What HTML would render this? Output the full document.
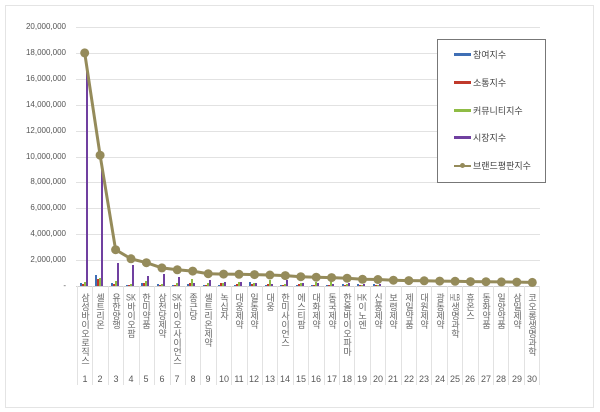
<!DOCTYPE html>
<html><head><meta charset="utf-8"><style>
body{margin:0;background:#fff;width:600px;height:412px;overflow:hidden;position:relative;font-family:"Liberation Sans","Noto Sans CJK KR",sans-serif}
.frame{position:absolute;left:5px;top:5px;width:587px;height:401px;border:1px solid #e4e4e4}
.yl{position:absolute;right:534px;font-size:8px;color:#555;text-align:right}
.lb{position:absolute;top:293px;width:14px;writing-mode:vertical-rl;text-orientation:upright;font-size:9px;color:#666;line-height:14px;letter-spacing:0px}
.lb span{text-combine-upright:all}
.nm{position:absolute;top:374px;width:16px;text-align:center;font-size:9px;color:#595959}
.lg{position:absolute;left:437px;top:39px;width:107px;height:142px;border:1px solid #777;background:#fff}
.li{position:absolute;left:35px;font-size:9px;color:#444}
.sw{position:absolute;left:16px;width:17px;height:3px}
</style></head><body>
<div class="frame"></div>
<svg width="600" height="412" style="position:absolute;left:0;top:0">
<g stroke="#e2e2e2" stroke-width="1">
<line x1="76" x2="540" y1="27.5" y2="27.5"/><line x1="76" x2="540" y1="53.5" y2="53.5"/><line x1="76" x2="540" y1="79.5" y2="79.5"/><line x1="76" x2="540" y1="105.5" y2="105.5"/><line x1="76" x2="540" y1="131.5" y2="131.5"/><line x1="76" x2="540" y1="157.5" y2="157.5"/><line x1="76" x2="540" y1="182.5" y2="182.5"/><line x1="76" x2="540" y1="208.5" y2="208.5"/><line x1="76" x2="540" y1="234.5" y2="234.5"/><line x1="76" x2="540" y1="260.5" y2="260.5"/>
</g>
<line x1="76" x2="540" y1="286.5" y2="286.5" stroke="#d0d0d0"/>
<g stroke="#e2e2e2">
<line x1="77.5" x2="77.5" y1="286" y2="385"/><line x1="92.5" x2="92.5" y1="286" y2="385"/><line x1="108.5" x2="108.5" y1="286" y2="385"/><line x1="123.5" x2="123.5" y1="286" y2="385"/><line x1="139.5" x2="139.5" y1="286" y2="385"/><line x1="154.5" x2="154.5" y1="286" y2="385"/><line x1="170.5" x2="170.5" y1="286" y2="385"/><line x1="185.5" x2="185.5" y1="286" y2="385"/><line x1="200.5" x2="200.5" y1="286" y2="385"/><line x1="216.5" x2="216.5" y1="286" y2="385"/><line x1="231.5" x2="231.5" y1="286" y2="385"/><line x1="247.5" x2="247.5" y1="286" y2="385"/><line x1="262.5" x2="262.5" y1="286" y2="385"/><line x1="277.5" x2="277.5" y1="286" y2="385"/><line x1="293.5" x2="293.5" y1="286" y2="385"/><line x1="308.5" x2="308.5" y1="286" y2="385"/><line x1="324.5" x2="324.5" y1="286" y2="385"/><line x1="339.5" x2="339.5" y1="286" y2="385"/><line x1="354.5" x2="354.5" y1="286" y2="385"/><line x1="370.5" x2="370.5" y1="286" y2="385"/><line x1="385.5" x2="385.5" y1="286" y2="385"/><line x1="401.5" x2="401.5" y1="286" y2="385"/><line x1="416.5" x2="416.5" y1="286" y2="385"/><line x1="431.5" x2="431.5" y1="286" y2="385"/><line x1="447.5" x2="447.5" y1="286" y2="385"/><line x1="462.5" x2="462.5" y1="286" y2="385"/><line x1="478.5" x2="478.5" y1="286" y2="385"/><line x1="493.5" x2="493.5" y1="286" y2="385"/><line x1="508.5" x2="508.5" y1="286" y2="385"/><line x1="524.5" x2="524.5" y1="286" y2="385"/><line x1="539.5" x2="539.5" y1="286" y2="385"/>
</g>
<g>
<rect x="80" y="283" width="2" height="3" fill="#3f6fb5"/><rect x="82" y="284" width="2" height="2" fill="#c0392b"/><rect x="84" y="282" width="2" height="4" fill="#8fbc45"/><rect x="86" y="66" width="2" height="220" fill="#7040a0"/>
<rect x="95" y="275" width="2" height="11" fill="#3f6fb5"/><rect x="97" y="279" width="2" height="7" fill="#c0392b"/><rect x="99" y="278" width="2" height="8" fill="#8fbc45"/><rect x="101" y="169" width="2" height="117" fill="#7040a0"/>
<rect x="111" y="283" width="2" height="3" fill="#3f6fb5"/><rect x="113" y="284" width="2" height="2" fill="#c0392b"/><rect x="115" y="281" width="2" height="5" fill="#8fbc45"/><rect x="117" y="263" width="2" height="23" fill="#7040a0"/>
<rect x="126" y="285" width="2" height="1" fill="#3f6fb5"/><rect x="128" y="285" width="2" height="1" fill="#c0392b"/><rect x="130" y="284" width="2" height="2" fill="#8fbc45"/><rect x="132" y="265" width="2" height="21" fill="#7040a0"/>
<rect x="141" y="283" width="2" height="3" fill="#3f6fb5"/><rect x="143" y="283" width="2" height="3" fill="#c0392b"/><rect x="145" y="281" width="2" height="5" fill="#8fbc45"/><rect x="147" y="276" width="2" height="10" fill="#7040a0"/>
<rect x="157" y="284" width="2" height="2" fill="#3f6fb5"/><rect x="159" y="285" width="2" height="1" fill="#c0392b"/><rect x="161" y="284" width="2" height="2" fill="#8fbc45"/><rect x="163" y="274" width="2" height="12" fill="#7040a0"/>
<rect x="172" y="285" width="2" height="1" fill="#3f6fb5"/><rect x="174" y="285" width="2" height="1" fill="#c0392b"/><rect x="176" y="283" width="2" height="3" fill="#8fbc45"/><rect x="178" y="277" width="2" height="9" fill="#7040a0"/>
<rect x="187" y="284" width="2" height="2" fill="#3f6fb5"/><rect x="189" y="283" width="2" height="3" fill="#c0392b"/><rect x="191" y="279" width="2" height="7" fill="#8fbc45"/><rect x="193" y="283" width="2" height="3" fill="#7040a0"/>
<rect x="203" y="285" width="2" height="1" fill="#3f6fb5"/><rect x="205" y="285" width="2" height="1" fill="#c0392b"/><rect x="207" y="283" width="2" height="3" fill="#8fbc45"/><rect x="209" y="280" width="2" height="6" fill="#7040a0"/>
<rect x="218" y="285" width="2" height="1" fill="#3f6fb5"/><rect x="220" y="283" width="2" height="3" fill="#c0392b"/><rect x="222" y="283" width="2" height="3" fill="#8fbc45"/><rect x="224" y="282" width="2" height="4" fill="#7040a0"/>
<rect x="234" y="285" width="2" height="1" fill="#3f6fb5"/><rect x="236" y="284" width="2" height="2" fill="#c0392b"/><rect x="238" y="282" width="2" height="4" fill="#8fbc45"/><rect x="240" y="282" width="2" height="4" fill="#7040a0"/>
<rect x="249" y="282" width="2" height="4" fill="#3f6fb5"/><rect x="251" y="284" width="2" height="2" fill="#c0392b"/><rect x="253" y="283" width="2" height="3" fill="#8fbc45"/><rect x="255" y="283" width="2" height="3" fill="#7040a0"/>
<rect x="265" y="285" width="2" height="1" fill="#3f6fb5"/><rect x="267" y="284" width="2" height="2" fill="#c0392b"/><rect x="269" y="280" width="2" height="6" fill="#8fbc45"/><rect x="271" y="284" width="2" height="2" fill="#7040a0"/>
<rect x="280" y="285" width="2" height="1" fill="#3f6fb5"/><rect x="282" y="285" width="2" height="1" fill="#c0392b"/><rect x="284" y="284" width="2" height="2" fill="#8fbc45"/><rect x="286" y="280" width="2" height="6" fill="#7040a0"/>
<rect x="296" y="285" width="2" height="1" fill="#3f6fb5"/><rect x="298" y="284" width="2" height="2" fill="#c0392b"/><rect x="300" y="283" width="2" height="3" fill="#8fbc45"/><rect x="302" y="283" width="2" height="3" fill="#7040a0"/>
<rect x="311" y="285" width="2" height="1" fill="#3f6fb5"/><rect x="313" y="285" width="2" height="1" fill="#c0392b"/><rect x="315" y="282" width="2" height="4" fill="#8fbc45"/><rect x="317" y="283" width="2" height="3" fill="#7040a0"/>
<rect x="326" y="285" width="2" height="1" fill="#3f6fb5"/><rect x="328" y="285" width="2" height="1" fill="#c0392b"/><rect x="330" y="280" width="2" height="6" fill="#8fbc45"/><rect x="332" y="284" width="2" height="2" fill="#7040a0"/>
<rect x="342" y="284" width="2" height="2" fill="#3f6fb5"/><rect x="344" y="285" width="2" height="1" fill="#c0392b"/><rect x="346" y="284" width="2" height="2" fill="#8fbc45"/><rect x="348" y="283" width="2" height="3" fill="#7040a0"/>
<rect x="357" y="284" width="2" height="2" fill="#3f6fb5"/><rect x="359" y="285" width="2" height="1" fill="#c0392b"/><rect x="361" y="285" width="2" height="1" fill="#8fbc45"/><rect x="363" y="284" width="2" height="2" fill="#7040a0"/>
<rect x="373" y="284" width="2" height="2" fill="#3f6fb5"/><rect x="375" y="285" width="2" height="1" fill="#c0392b"/><rect x="377" y="285" width="2" height="1" fill="#8fbc45"/><rect x="379" y="284" width="2" height="2" fill="#7040a0"/>
</g>
<polyline fill="none" stroke="#958b5a" stroke-width="3" points="84.7,52.9 100.1,155.2 115.6,249.7 131,258.8 146.4,262.7 161.9,267.9 177.3,269.8 192.7,271.1 208.2,273.7 223.6,274.1 239,274.3 254.5,274.6 269.9,275 285.3,275.6 300.8,276.7 316.2,277.2 331.6,277.6 347.1,278.2 362.5,279.3 377.9,279.5 393.4,280.2 408.8,280.6 424.2,280.8 439.7,281.1 455.1,281.3 470.5,281.6 486,281.7 501.4,281.9 516.8,282.1 532.3,282.4"/>
<g fill="#958b5a">
<circle cx="84.7" cy="52.9" r="4.5"/><circle cx="100.1" cy="155.2" r="4.5"/><circle cx="115.6" cy="249.7" r="4.5"/><circle cx="131" cy="258.8" r="4.5"/><circle cx="146.4" cy="262.7" r="4.5"/><circle cx="161.9" cy="267.9" r="4.5"/><circle cx="177.3" cy="269.8" r="4.5"/><circle cx="192.7" cy="271.1" r="4.5"/><circle cx="208.2" cy="273.7" r="4.5"/><circle cx="223.6" cy="274.1" r="4.5"/><circle cx="239" cy="274.3" r="4.5"/><circle cx="254.5" cy="274.6" r="4.5"/><circle cx="269.9" cy="275" r="4.5"/><circle cx="285.3" cy="275.6" r="4.5"/><circle cx="300.8" cy="276.7" r="4.5"/><circle cx="316.2" cy="277.2" r="4.5"/><circle cx="331.6" cy="277.6" r="4.5"/><circle cx="347.1" cy="278.2" r="4.5"/><circle cx="362.5" cy="279.3" r="4.5"/><circle cx="377.9" cy="279.5" r="4.5"/><circle cx="393.4" cy="280.2" r="4.5"/><circle cx="408.8" cy="280.6" r="4.5"/><circle cx="424.2" cy="280.8" r="4.5"/><circle cx="439.7" cy="281.1" r="4.5"/><circle cx="455.1" cy="281.3" r="4.5"/><circle cx="470.5" cy="281.6" r="4.5"/><circle cx="486" cy="281.7" r="4.5"/><circle cx="501.4" cy="281.9" r="4.5"/><circle cx="516.8" cy="282.1" r="4.5"/><circle cx="532.3" cy="282.4" r="4.5"/>
</g>
</svg>
<div class="yl" style="top:22px">20,000,000</div><div class="yl" style="top:48px">18,000,000</div><div class="yl" style="top:74px">16,000,000</div><div class="yl" style="top:100px">14,000,000</div><div class="yl" style="top:126px">12,000,000</div><div class="yl" style="top:152px">10,000,000</div><div class="yl" style="top:177px">8,000,000</div><div class="yl" style="top:203px">6,000,000</div><div class="yl" style="top:229px">4,000,000</div><div class="yl" style="top:255px">2,000,000</div><div class="yl" style="top:281px">-</div>
<div class="lb" style="left:78px">삼성바이오로직스</div><div class="lb" style="left:93px">셀트리온</div><div class="lb" style="left:109px">유한양행</div><div class="lb" style="left:124px"><span>SK</span>바이오팜</div><div class="lb" style="left:139px">한미약품</div><div class="lb" style="left:155px">삼천당제약</div><div class="lb" style="left:170px"><span>SK</span>바이오사이언스</div><div class="lb" style="left:186px">종근당</div><div class="lb" style="left:201px">셀트리온제약</div><div class="lb" style="left:217px">녹십자</div><div class="lb" style="left:232px">대웅제약</div><div class="lb" style="left:247px">일동제약</div><div class="lb" style="left:263px">대웅</div><div class="lb" style="left:278px">한미사이언스</div><div class="lb" style="left:294px">에스티팜</div><div class="lb" style="left:309px">대화제약</div><div class="lb" style="left:325px">동국제약</div><div class="lb" style="left:340px">한올바이오파마</div><div class="lb" style="left:355px"><span>HK</span>이노엔</div><div class="lb" style="left:371px">신풍제약</div><div class="lb" style="left:386px">보령제약</div><div class="lb" style="left:402px">제일약품</div><div class="lb" style="left:417px">대원제약</div><div class="lb" style="left:433px">광동제약</div><div class="lb" style="left:448px"><span>HLB</span>생명과학</div><div class="lb" style="left:463px">휴온스</div><div class="lb" style="left:479px">동화약품</div><div class="lb" style="left:494px">일양약품</div><div class="lb" style="left:510px">삼일제약</div><div class="lb" style="left:525px">코오롱생명과학</div>
<div class="nm" style="left:77px">1</div><div class="nm" style="left:92px">2</div><div class="nm" style="left:108px">3</div><div class="nm" style="left:123px">4</div><div class="nm" style="left:138px">5</div><div class="nm" style="left:154px">6</div><div class="nm" style="left:169px">7</div><div class="nm" style="left:185px">8</div><div class="nm" style="left:200px">9</div><div class="nm" style="left:216px">10</div><div class="nm" style="left:231px">11</div><div class="nm" style="left:246px">12</div><div class="nm" style="left:262px">13</div><div class="nm" style="left:277px">14</div><div class="nm" style="left:293px">15</div><div class="nm" style="left:308px">16</div><div class="nm" style="left:324px">17</div><div class="nm" style="left:339px">18</div><div class="nm" style="left:354px">19</div><div class="nm" style="left:370px">20</div><div class="nm" style="left:385px">21</div><div class="nm" style="left:401px">22</div><div class="nm" style="left:416px">23</div><div class="nm" style="left:432px">24</div><div class="nm" style="left:447px">25</div><div class="nm" style="left:462px">26</div><div class="nm" style="left:478px">27</div><div class="nm" style="left:493px">28</div><div class="nm" style="left:509px">29</div><div class="nm" style="left:524px">30</div>
<div class="lg">
<div class="sw" style="top:13px;background:#3f6fb5"></div><div class="li" style="top:8px">참여지수</div>
<div class="sw" style="top:41px;background:#c0392b"></div><div class="li" style="top:36px">소통지수</div>
<div class="sw" style="top:69px;background:#8fbc45"></div><div class="li" style="top:64px">커뮤니티지수</div>
<div class="sw" style="top:96px;background:#7040a0"></div><div class="li" style="top:91px">시장지수</div>
<div class="sw" style="top:125px;height:2px;background:#958b5a"></div><div style="position:absolute;left:22px;top:123px;width:5px;height:5px;border-radius:50%;background:#958b5a"></div><div class="li" style="top:119px">브랜드평판지수</div>
</div>
</body></html>
